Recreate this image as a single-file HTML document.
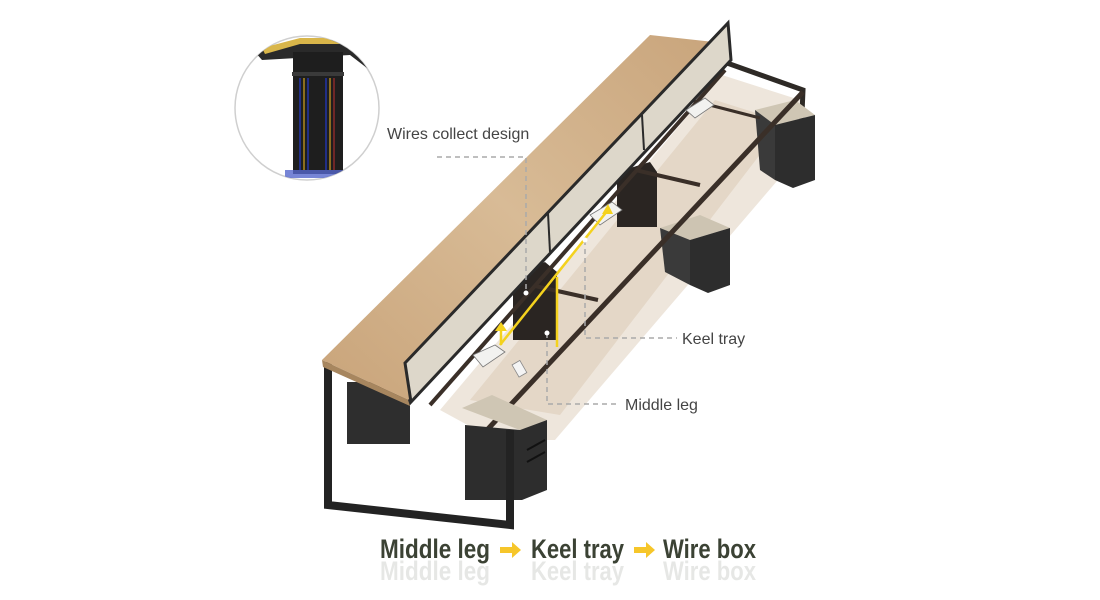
<!DOCTYPE html>
<html><head><meta charset="utf-8"><style>
html,body{margin:0;padding:0;background:#fff;}
svg{display:block}
</style></head><body>
<svg width="1100" height="600" viewBox="0 0 1100 600" xmlns="http://www.w3.org/2000/svg">
<defs>
<linearGradient id="wood" x1="0" y1="1" x2="1" y2="0">
<stop offset="0" stop-color="#c9a47a"/><stop offset="0.5" stop-color="#d8bb96"/><stop offset="1" stop-color="#c9a57c"/>
</linearGradient>
<clipPath id="cc"><circle cx="307" cy="108" r="72"/></clipPath>
</defs>
<rect width="1100" height="600" fill="#fff"/>

<!-- floor shadow -->
<polygon points="440,410 722,75 800,100 795,160 555,440 495,440" fill="#eee6dc"/>
<polygon points="470,400 715,100 785,122 560,415" fill="#e4d7c7"/>

<!-- right end frame -->
<polyline points="727,63 803,90 800,160" fill="none" stroke="#2e2a26" stroke-width="5"/>
<!-- right pedestal -->
<polygon points="755,110 795,100 815,115 775,125" fill="#cfc6b4"/>
<polygon points="775,125 815,115 815,180 793,188 775,180" fill="#2d2d2d"/>
<polygon points="755,110 775,125 775,180 760,170" fill="#3a3a3a"/>
<!-- middle pedestal -->
<polygon points="660,228 700,215 730,228 690,240" fill="#cdc4b2"/>
<polygon points="690,240 730,228 730,285 708,293 690,285" fill="#2d2d2d"/>
<polygon points="660,228 690,240 690,285 665,272" fill="#3a3a3a"/>

<!-- middle dark legs -->
<polygon points="513,275 545,262 557,272 557,340 513,340" fill="#2a2522"/>
<polygon points="617,172 650,162 657,172 657,227 617,227" fill="#2a2522"/>

<!-- rails -->
<line x1="430" y1="405" x2="725" y2="70" stroke="#3a2f28" stroke-width="4"/>
<line x1="487" y1="430" x2="803" y2="92" stroke="#3a2f28" stroke-width="5"/>
<line x1="535" y1="286" x2="598" y2="300" stroke="#3a2f28" stroke-width="4"/>
<line x1="635" y1="170" x2="700" y2="185" stroke="#3a2f28" stroke-width="4"/>
<line x1="690" y1="100" x2="760" y2="118" stroke="#3a2f28" stroke-width="3"/>

<!-- left back pedestal -->
<rect x="347" y="382" width="63" height="62" fill="#2e2e2e"/>
<!-- left front pedestal -->
<polygon points="462,408 492,395 547,420 520,430" fill="#cfc6b4"/>
<polygon points="465,425 520,430 547,420 547,490 522,500 465,500" fill="#2d2d2d"/>
<line x1="527" y1="450" x2="545" y2="440" stroke="#111" stroke-width="2"/>
<line x1="527" y1="462" x2="545" y2="452" stroke="#111" stroke-width="2"/>

<!-- left leg loop -->
<polyline points="328,362 328,505 510,525 510,430" fill="none" stroke="#232323" stroke-width="8"/>

<!-- wood top -->
<polygon points="322,360 650,35 714,42 408,400" fill="url(#wood)"/>
<polygon points="322,360 408,400 410,406 323,367" fill="#a7865f"/>

<!-- screen panel -->
<polygon points="405,363 728,23 731,60 411,402" fill="#ddd7ca" stroke="#2a2a2a" stroke-width="3"/>
<line x1="548" y1="213" x2="550" y2="252" stroke="#2a2a2a" stroke-width="2"/>
<line x1="642" y1="115" x2="644" y2="150" stroke="#2a2a2a" stroke-width="2"/>

<!-- wire boxes -->
<polygon points="473,355 495,345 505,352 483,367" fill="#f2f2f0" stroke="#777" stroke-width="0.8"/>
<polygon points="590,215 612,202 622,210 600,225" fill="#f2f2f0" stroke="#777" stroke-width="0.8"/>
<polygon points="686,110 705,98 714,105 695,118" fill="#f2f2f0" stroke="#777" stroke-width="0.8"/>
<rect x="515" y="362" width="9" height="14" fill="#f4f4f4" stroke="#888" stroke-width="0.8" transform="rotate(-30 519 369)"/>

<!-- yellow lines -->
<polyline points="500,345 608,210" fill="none" stroke="#f4d21e" stroke-width="2.5"/>
<line x1="557" y1="277" x2="557" y2="347" stroke="#f4d21e" stroke-width="2.5"/>
<polygon points="608,204 602,214 613,214" fill="#f4d21e"/>
<polygon points="501,322 495,331 507,331" fill="#f4d21e"/>
<line x1="501" y1="330" x2="501" y2="345" stroke="#f4d21e" stroke-width="2.5"/>

<!-- dashed callouts -->
<g stroke="#aaa" stroke-width="1.5" stroke-dasharray="5,4" fill="none">
<polyline points="437,157 526,157 526,292"/>
<polyline points="585,240 585,338 677,338"/>
<polyline points="547,333 547,404 616,404"/>
</g>
<circle cx="526" cy="293" r="2.5" fill="#fff"/>
<circle cx="585" cy="240" r="2.5" fill="#fff"/>
<circle cx="547" cy="333" r="2.5" fill="#fff"/>

<g font-family="Liberation Sans, sans-serif" font-size="16" fill="#444">
<text x="387" y="139">Wires collect design</text>
<text x="682" y="344">Keel tray</text>
<text x="625" y="410">Middle leg</text>
</g>

<!-- inset circle -->
<circle cx="307" cy="108" r="72" fill="#fff" stroke="#cfcfcf" stroke-width="1.5"/>
<g clip-path="url(#cc)">
<polygon points="255,52 300,40 345,40 380,68 380,78 350,55 262,60" fill="#2a2a2a"/>
<polygon points="262,48 300,38 340,38 345,44 300,44 265,54" fill="#d9b64a"/>
<rect x="293" y="52" width="50" height="122" fill="#1e1e1e"/>
<rect x="292" y="72" width="52" height="4" fill="#3a3a3a"/>
<g stroke-width="1.5">
<line x1="300" y1="78" x2="300" y2="170" stroke="#2233aa"/>
<line x1="304" y1="78" x2="304" y2="170" stroke="#b08820"/>
<line x1="308" y1="78" x2="308" y2="170" stroke="#2233aa"/>
<line x1="326" y1="78" x2="326" y2="170" stroke="#2233aa"/>
<line x1="330" y1="78" x2="330" y2="170" stroke="#b08820"/>
<line x1="334" y1="78" x2="334" y2="170" stroke="#8a2a2a"/>
</g>
<rect x="285" y="170" width="60" height="8" fill="#5566cc" opacity="0.8"/>
</g>

<!-- bottom title -->
<g font-family="Liberation Sans, sans-serif" font-weight="bold" font-size="27" fill="#3b4234">
<text x="380" y="558" textLength="110" lengthAdjust="spacingAndGlyphs">Middle leg</text>
<text x="531" y="558" textLength="93" lengthAdjust="spacingAndGlyphs">Keel tray</text>
<text x="663" y="558" textLength="93" lengthAdjust="spacingAndGlyphs">Wire box</text>
</g>
<g font-family="Liberation Sans, sans-serif" font-weight="bold" font-size="27" fill="#3b4234" opacity="0.12">
<text x="380" y="580" textLength="110" lengthAdjust="spacingAndGlyphs">Middle leg</text>
<text x="531" y="580" textLength="93" lengthAdjust="spacingAndGlyphs">Keel tray</text>
<text x="663" y="580" textLength="93" lengthAdjust="spacingAndGlyphs">Wire box</text>
</g>
<g fill="#f6c62a">
<polygon points="500,547 512,547 512,542 521,550 512,558 512,553 500,553"/>
<polygon points="634,547 646,547 646,542 655,550 646,558 646,553 634,553"/>
</g>
</svg>
</body></html>
